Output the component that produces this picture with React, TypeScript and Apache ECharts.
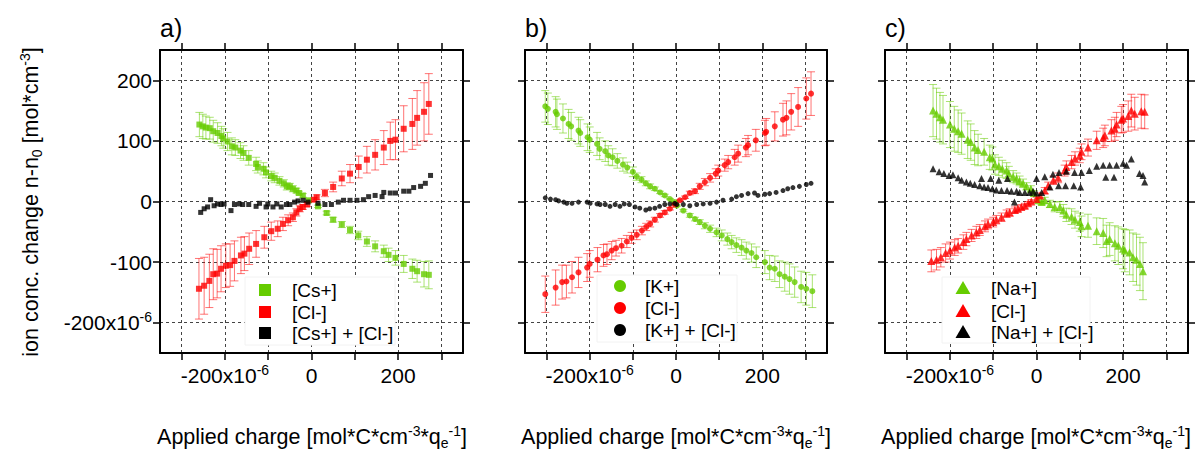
import React, { useEffect, useRef } from "react";
import * as echarts from "echarts";

const FONT = '"Liberation Sans", Arial, Helvetica, sans-serif';
const GREEN = "#66cc00";
const RED = "#ff0000";
const GREEN_ERR = "rgba(102,204,0,0.55)";
const RED_ERR = "rgba(255,0,0,0.55)";

// ---- axis ticks (units of 1e-6) ----
const xTickValues = [-300, -200, -100, 0, 100, 200, 300];
const xLabelValues = [-200, 0, 200];
const yTickValues = [-200, -100, 0, 100, 200];
const panelTitles = ["a)", "b)", "c)"];

// ---- panel a: CsCl, [x, y, err] ----
const aCation = [
  [-259, 127, 20], [-251, 124, 20], [-244, 122, 19], [-235, 121, 18], [-227, 116, 18], [-217, 113, 17],
  [-208, 108, 16], [-204, 104, 16], [-194, 99, 15], [-184, 91, 14], [-176, 89, 13], [-164, 84, 13],
  [-157, 80, 12], [-145, 72, 12], [-128, 62, 11], [-124, 57, 10], [-111, 54, 10], [-105, 48, 9],
  [-93, 42, 8], [-85, 39, 8], [-74, 34, 7], [-64, 30, 6], [-57, 25, 6], [-50, 25, 5], [-43, 21, 5],
  [-35, 18, 4], [-29, 14, 3], [-20, 10, 3], [-6, 2, 2],
  [15, -8, 2], [35, -19, 3], [50, -30, 4], [70, -38, 5], [89, -47, 6], [108, -56, 7], [128, -66, 8],
  [147, -74, 9], [167, -82, 10], [178, -88, 11], [194, -93, 12], [213, -103, 14], [233, -111, 16],
  [244, -115, 18], [260, -120, 21], [271, -121, 23],
];
const aAnion = [
  [-260, -144, 50], [-248, -139, 47], [-236, -131, 44], [-227, -120, 42], [-218, -119, 40], [-209, -111, 38],
  [-198, -106, 36], [-188, -105, 35], [-178, -98, 33], [-163, -89, 30], [-155, -86, 28], [-144, -78, 26],
  [-128, -70, 22], [-109, -59, 18], [-93, -49, 15], [-78, -45, 13], [-66, -37, 11], [-54, -31, 9],
  [-43, -26, 7], [-35, -18, 6], [-27, -12, 5], [-20, -9, 4], [-10, -5, 3],
  [6, 3, 3], [12, 7, 4], [31, 14, 6], [50, 24, 8], [70, 38, 12], [89, 46, 15], [109, 57, 18],
  [128, 69, 22], [147, 77, 25], [167, 89, 28], [182, 100, 31], [194, 102, 33], [213, 120, 38],
  [233, 128, 42], [244, 138, 45], [260, 148, 48], [271, 161, 50],
];
const aSum = [
  [-256, -18], [-248, -12], [-240, -9], [-233, 3], [-225, -7], [-217, -4], [-209, -5], [-202, -4],
  [-186, -15], [-178, -5], [-167, -4], [-159, -5], [-145, -5], [-128, -8], [-120, -3], [-105, -9],
  [-101, -4], [-89, -9], [-80, -4], [-70, -9], [-58, -5], [-50, -5], [-39, -1], [-31, 1], [-19, 2], [-8, -1],
  [15, -3], [31, -5], [46, -5], [62, -1], [74, 2], [89, 2], [105, 2], [120, 3], [132, 8], [147, 10],
  [163, 8], [167, 15], [182, 14], [194, 14], [213, 17], [225, 17], [236, 23], [252, 25], [263, 30], [275, 43],
];

// ---- panel b: KCl ----
const bCation = [
  [-303, 157, 26], [-297, 153, 26], [-279, 148, 25], [-276, 144, 25], [-262, 137, 24], [-249, 128, 24],
  [-243, 124, 23], [-226, 117, 22], [-222, 113, 22], [-205, 106, 22], [-200, 102, 21], [-183, 95, 19],
  [-177, 87, 18], [-164, 83, 17], [-157, 76, 16], [-147, 73, 14], [-136, 67, 12], [-123, 61, 11],
  [-113, 56, 9], [-100, 49, 8], [-91, 41, 6], [-80, 36, 5], [-70, 30, 4], [-60, 25, 4], [-49, 21, 3],
  [-37, 15, 2], [-26, 10, 2], [-14, 4, 1], [-3, -1, 1],
  [2, -7, 1], [17, -15, 2], [32, -23, 3], [44, -29, 3], [55, -34, 4], [67, -40, 5], [79, -45, 6],
  [94, -51, 7], [106, -56, 9], [119, -62, 10], [129, -67, 11], [140, -72, 12], [152, -76, 13],
  [163, -81, 14], [175, -85, 15], [186, -92, 17], [206, -100, 19], [217, -109, 20], [229, -111, 21],
  [240, -120, 22], [252, -124, 24], [263, -128, 25], [275, -133, 25], [290, -141, 26], [302, -144, 27],
  [316, -148, 27],
];
const bAnion = [
  [-303, -153, 30], [-279, -142, 29], [-264, -133, 28], [-254, -132, 27], [-241, -125, 26], [-226, -117, 25],
  [-206, -109, 23], [-200, -103, 22], [-182, -96, 20], [-168, -89, 18], [-160, -87, 17], [-149, -81, 15],
  [-139, -77, 13], [-126, -73, 12], [-114, -66, 10], [-103, -60, 9], [-91, -55, 8], [-79, -48, 7],
  [-69, -42, 6], [-60, -37, 5], [-49, -30, 4], [-37, -23, 3], [-26, -18, 3], [-14, -12, 2], [-3, -5, 1],
  [9, 2, 1], [21, 7, 2], [32, 14, 3], [44, 17, 4], [55, 25, 5], [67, 32, 6], [79, 39, 7], [92, 46, 8],
  [98, 51, 9], [113, 60, 10], [121, 65, 11], [136, 73, 13], [144, 79, 14], [162, 89, 15], [167, 93, 16],
  [185, 101, 18], [206, 113, 21], [209, 115, 22], [229, 124, 24], [248, 135, 27], [256, 138, 28],
  [267, 148, 30], [283, 156, 32], [302, 170, 34], [313, 178, 36],
];
const bSum = [
  [-303, 6], [-291, 4], [-279, 3], [-272, 1], [-260, -1], [-253, -3], [-241, -3], [-226, -1], [-206, -1],
  [-199, -3], [-183, -4], [-176, -5], [-164, -5], [-153, -8], [-141, -5], [-130, -8], [-120, -4],
  [-108, -5], [-95, -9], [-84, -11], [-70, -14], [-61, -12], [-49, -11], [-38, -8], [-26, -5], [-14, -4], [-3, -3],
  [2, -5], [17, -5], [32, -7], [48, -5], [63, -4], [79, -3], [94, -1], [109, 2], [129, 4], [140, 8],
  [152, 10], [167, 13], [182, 14], [190, 10], [206, 12], [217, 13], [232, 15], [248, 18], [259, 21],
  [271, 23], [286, 25], [302, 28], [313, 30],
];

// ---- panel c: NaCl ----
const cCation = [
  [-239, 150, 43], [-231, 145, 42], [-223, 139, 41], [-216, 135, 40], [-200, 127, 38], [-190, 120, 37],
  [-181, 116, 35], [-173, 112, 34], [-159, 102, 31], [-152, 98, 30], [-143, 89, 28], [-135, 85, 26],
  [-121, 82, 22], [-108, 73, 20], [-102, 71, 19], [-96, 61, 16], [-87, 58, 15], [-79, 54, 14],
  [-69, 51, 13], [-64, 46, 12], [-54, 41, 10], [-46, 38, 9], [-39, 34, 8], [-31, 30, 7], [-23, 25, 6],
  [-13, 21, 5], [-6, 14, 4],
  [4, 2, 3], [12, -1, 4], [19, 2, 5], [31, -4, 6], [42, -9, 8], [54, -9, 9], [62, -15, 10], [69, -22, 11],
  [81, -25, 13], [89, -30, 14], [100, -34, 15], [104, -41, 17], [119, -40, 19], [139, -49, 22],
  [154, -52, 24], [162, -65, 26], [169, -62, 27], [181, -69, 29], [189, -73, 31], [200, -78, 33],
  [204, -81, 35], [215, -84, 37], [223, -92, 40], [231, -96, 42], [239, -103, 44], [246, -115, 47],
];
const cAnion = [
  [-243, -98, 18], [-231, -96, 17], [-221, -92, 16], [-210, -85, 15], [-200, -81, 14], [-189, -76, 13],
  [-181, -73, 12], [-169, -67, 12], [-162, -62, 11], [-150, -56, 10], [-139, -51, 10], [-131, -47, 9],
  [-119, -41, 9], [-112, -37, 8], [-100, -34, 8], [-93, -30, 7], [-81, -26, 7], [-69, -20, 6],
  [-62, -18, 6], [-50, -14, 5], [-43, -12, 5], [-35, -9, 4], [-27, -7, 4], [-19, -3, 3], [-12, 0, 3], [0, 4, 3],
  [8, 10, 4], [19, 18, 5], [27, 26, 6], [39, 35, 7], [50, 39, 8], [65, 51, 9], [69, 57, 10], [81, 65, 11],
  [89, 71, 11], [100, 76, 12], [104, 82, 13], [119, 89, 14], [139, 101, 15], [154, 105, 16], [158, 109, 17],
  [173, 117, 18], [181, 120, 19], [185, 127, 20], [196, 135, 22], [200, 137, 23], [212, 141, 25],
  [219, 150, 27], [227, 145, 27], [242, 149, 28], [250, 148, 28],
];
const cSum = [
  [-239, 54], [-225, 49], [-214, 46], [-202, 43], [-193, 44], [-181, 39], [-173, 35], [-162, 32],
  [-153, 30], [-143, 28], [-131, 26], [-121, 24], [-112, 23], [-102, 21], [-93, 19], [-81, 18],
  [-68, 18], [-58, 17], [-46, 17], [-39, 15], [-27, 15], [-16, 15], [-8, 17],
  [-127, 38], [-106, 38], [-87, 35], [-67, 38], [-51, -1],
  [0, 14], [12, 15], [31, 24], [51, 26], [67, 26], [86, 26], [102, 24], [160, 40], [179, 40],
  [0, 38], [19, 41], [38, 45], [52, 48], [69, 50], [88, 48], [104, 48], [122, 51], [139, 58],
  [154, 60], [169, 60], [185, 60], [200, 63], [208, 60], [219, 70], [238, 46], [246, 43], [250, 32],
];

const panelLegends = [
  ["[Cs+]", "[Cl-]", "[Cs+] + [Cl-]"],
  ["[K+]", "[Cl-]", "[K+] + [Cl-]"],
  ["[Na+]", "[Cl-]", "[Na+] + [Cl-]"],
];

const panels = [
  { cation: aCation, anion: aAnion, sum: aSum, symbol: "rect", size: 6, sumSize: 5 },
  { cation: bCation, anion: bAnion, sum: bSum, symbol: "circle", size: 6, sumSize: 5 },
  { cation: cCation, anion: cAnion, sum: cSum, symbol: "triangle", size: 8, sumSize: 7 },
];

// layout
const GRID_LEFT = [160, 525, 885];
const GRID_W = [303, 302, 303];
const GRID_TOP = 50;
const GRID_H = 303;

const richSup = {
  n: { fontSize: 21, lineHeight: 25, fontFamily: FONT, color: "#000" },
  sup: { fontSize: 14, lineHeight: 12, verticalAlign: "top", fontFamily: FONT, color: "#000" },
};

function tickFmt(v: number) {
  if (v === -200) return "{n|-200x10}{sup|-6}";
  return "{n|" + v + "}";
}

function errorSeries(data: number[][], color: string, idx: number) {
  return {
    type: "custom",
    xAxisIndex: idx,
    yAxisIndex: idx,
    data,
    z: 2,
    silent: true,
    encode: { x: 0, y: 1 },
    renderItem: (params: any, api: any) => {
      const x = api.value(0);
      const y = api.value(1);
      const e = api.value(2);
      const top = api.coord([x, y + e]);
      const bot = api.coord([x, y - e]);
      const hw = 4;
      const st = { stroke: color, lineWidth: 1 };
      return {
        type: "group",
        children: [
          { type: "line", shape: { x1: top[0], y1: top[1], x2: bot[0], y2: bot[1] }, style: st },
          { type: "line", shape: { x1: top[0] - hw, y1: top[1], x2: top[0] + hw, y2: top[1] }, style: st },
          { type: "line", shape: { x1: bot[0] - hw, y1: bot[1], x2: bot[0] + hw, y2: bot[1] }, style: st },
        ],
      };
    },
  };
}

function buildOption() {
  const grid: any[] = [];
  const xAxis: any[] = [];
  const yAxis: any[] = [];
  const series: any[] = [];
  const graphic: any[] = [];

  const axisLine = { show: true, onZero: false, lineStyle: { color: "#000", width: 2 } };
  const axisTick = { show: true, inside: false, length: 7, lineStyle: { color: "#000", width: 1.5 } };
  const splitLine = { show: true, lineStyle: { color: "#444", width: 1, type: [3, 3] } };

  for (let i = 0; i < 3; i++) {
    grid.push({ left: GRID_LEFT[i], top: GRID_TOP, width: GRID_W[i], height: GRID_H, containLabel: false });
  }
  for (let i = 0; i < 3; i++) {
    xAxis.push({
      type: "value", gridIndex: i, position: "bottom", min: -350, max: 350,
      axisLine, axisTick: { ...axisTick, customValues: xTickValues },
      splitLine,
      axisLabel: { show: true, customValues: xLabelValues, formatter: tickFmt, rich: richSup, margin: 10, color: "#000" },
    });
  }
  for (let i = 0; i < 3; i++) {
    xAxis.push({
      type: "value", gridIndex: i, position: "top", min: -350, max: 350,
      axisLine, axisTick: { ...axisTick, customValues: xTickValues },
      splitLine: { show: false }, axisLabel: { show: false },
    });
  }
  for (let i = 0; i < 3; i++) {
    yAxis.push({
      type: "value", gridIndex: i, position: "left", min: -250, max: 250,
      axisLine, axisTick: { ...axisTick, customValues: yTickValues },
      splitLine,
      axisLabel: {
        show: i === 0, customValues: yTickValues, formatter: tickFmt, rich: richSup, margin: 8, color: "#000",
      },
    });
  }
  for (let i = 0; i < 3; i++) {
    yAxis.push({
      type: "value", gridIndex: i, position: "right", min: -250, max: 250,
      axisLine, axisTick: { ...axisTick, customValues: yTickValues },
      splitLine: { show: false }, axisLabel: { show: false },
    });
  }

  panels.forEach((p, i) => {
    series.push(errorSeries(p.cation, GREEN_ERR, i));
    series.push(errorSeries(p.anion, RED_ERR, i));
    series.push({
      type: "scatter", name: panelLegends[i][0], xAxisIndex: i, yAxisIndex: i, z: 3,
      symbol: p.symbol, symbolSize: p.size, itemStyle: { color: GREEN },
      data: p.cation.map((d) => [d[0], d[1]]),
    });
    series.push({
      type: "scatter", name: panelLegends[i][1], xAxisIndex: i, yAxisIndex: i, z: 3,
      symbol: p.symbol, symbolSize: p.size, itemStyle: { color: RED },
      data: p.anion.map((d) => [d[0], d[1]]),
    });
    series.push({
      type: "scatter", name: panelLegends[i][2], xAxisIndex: i, yAxisIndex: i, z: 4,
      symbol: p.symbol, symbolSize: p.sumSize, itemStyle: { color: "#000" },
      data: p.sum,
    });
  });

  panelTitles.forEach((t, i) => {
    graphic.push({
      type: "text", x: GRID_LEFT[i], y: 28, z: 100,
      style: { text: t, fontSize: 25, fontFamily: FONT, fill: "#000", align: "left", verticalAlign: "middle" },
    });
  });

  const nameRich = {
    m: { fontSize: 21.5, lineHeight: 26, fontFamily: FONT, fill: "#000" },
    sup: { fontSize: 14, lineHeight: 14, verticalAlign: "top", fontFamily: FONT, fill: "#000" },
    sub: { fontSize: 14, lineHeight: 14, verticalAlign: "bottom", fontFamily: FONT, fill: "#000" },
  };
  const xCenters = [312, 676, 1036];
  xCenters.forEach((cx) => {
    graphic.push({
      type: "text", x: cx, y: 437, z: 100,
      style: {
        text: "{m|Applied charge [mol*C*cm}{sup|-3}{m|*q}{sub|e}{sup|-1}{m|]}",
        rich: nameRich, align: "center", verticalAlign: "middle", fontFamily: FONT, fill: "#000",
      },
    });
  });
  graphic.push({
    type: "text", x: 31, y: 202, rotation: Math.PI / 2, z: 100,
    style: {
      text: "{m|ion conc. change n-n}{sub|0}{m| [mol*cm}{sup|-3}{m|]}",
      rich: nameRich, align: "center", verticalAlign: "middle", fontFamily: FONT, fill: "#000",
    },
  });

  const legBoxes = [
    { x: 245, y: 277, w: 150, h: 68, mx: 265, tx: 292, rows: [290, 312, 333] },
    { x: 597, y: 275, w: 140, h: 67, mx: 620, tx: 645, rows: [286, 308, 330] },
    { x: 942, y: 277, w: 148, h: 66, mx: 963, tx: 991, rows: [288, 311, 332] },
  ];
  const colors = [GREEN, RED, "#000"];
  legBoxes.forEach((b, i) => {
    graphic.push({
      type: "rect", z: 90, shape: { x: b.x, y: b.y, width: b.w, height: b.h },
      style: { fill: "#fff", stroke: "#f2f2f2", lineWidth: 1 },
    });
    b.rows.forEach((ry, k) => {
      let mark: any;
      if (i === 0) {
        mark = { type: "rect", shape: { x: b.mx - 6, y: ry - 6, width: 12, height: 12 }, style: { fill: colors[k] } };
      } else if (i === 1) {
        mark = { type: "circle", shape: { cx: b.mx, cy: ry, r: 6 }, style: { fill: colors[k] } };
      } else {
        mark = {
          type: "polygon",
          shape: { points: [[b.mx, ry - 7], [b.mx - 7.5, ry + 6], [b.mx + 7.5, ry + 6]] },
          style: { fill: colors[k] },
        };
      }
      mark.z = 95;
      graphic.push(mark);
      graphic.push({
        type: "text", x: b.tx, y: ry, z: 95,
        style: { text: panelLegends[i][k], fontSize: 19, fontFamily: FONT, fill: "#000", align: "left", verticalAlign: "middle" },
      });
    });
  });

  return {
    animation: false,
    backgroundColor: "#fff",
    textStyle: { fontFamily: FONT },
    grid, xAxis, yAxis, series, graphic,
  };
}

export default function App() {
  const ref = useRef<HTMLDivElement>(null);
  useEffect(() => {
    if (!ref.current) return;
    const chart = echarts.init(ref.current, null, { renderer: "svg" });
    chart.setOption(buildOption() as any);
    return () => chart.dispose();
  }, []);
  return (
    <div
      ref={ref}
      style={{ position: "fixed", left: 0, top: 0, width: 1195, height: 450, background: "#fff" }}
    />
  );
}
